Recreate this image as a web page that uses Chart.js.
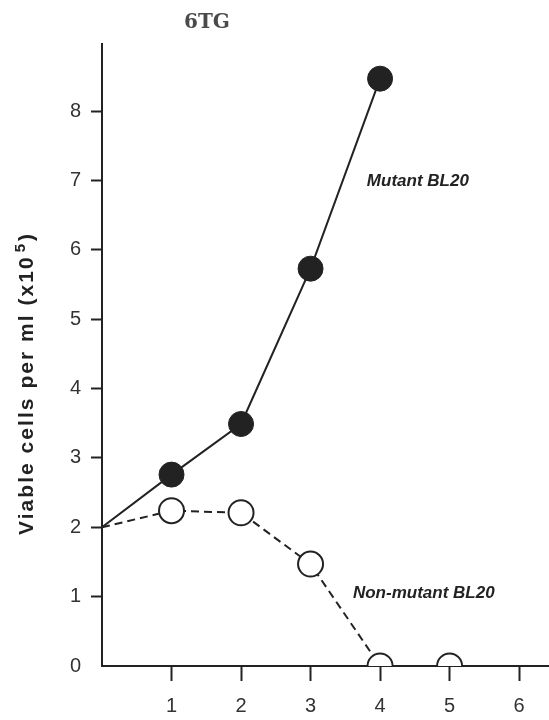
<!DOCTYPE html>
<html>
<head>
<meta charset="utf-8">
<script src="https://cdn.jsdelivr.net/npm/chart.js@4/dist/chart.umd.min.js"></script>
<style>
  html, body { margin: 0; padding: 0; background: #fff; }
  #wrap { width: 549px; height: 720px; position: relative; }
</style>
</head>
<body>
<div id="wrap"><canvas id="c" width="549" height="720"></canvas></div>
<script>
// Days in culture and viable cell counts (x10^5 per ml)
const days = [0, 1, 2, 3, 4, 5];
const mutantCells = [2.0, 2.76, 3.49, 5.73, 8.47];
const nonMutantCells = [2.0, 2.24, 2.21, 1.47, 0, 0];
const yTicks = [0, 1, 2, 3, 4, 5, 6, 7, 8];
const xTicks = [1, 2, 3, 4, 5, 6];

const ink = '#222';
const sans = '"Liberation Sans", Arial, sans-serif';

const toPoints = (vals) => vals.map((v, i) => ({ x: days[i], y: v }));

// Title, y-axis caption and in-plot series names
const textPlugin = {
  id: 'textLayer',
  afterDraw(chart) {
    const ctx = chart.ctx;
    const { x, y } = chart.scales;
    ctx.save();
    // "6TG" heading
    ctx.fillStyle = '#4a4a4a';
    ctx.font = 'bold 20px "DejaVu Serif", "Liberation Serif", serif';
    ctx.textAlign = 'center';
    ctx.textBaseline = 'middle';
    ctx.fillText('6TG', 207, 23);

    // Series names
    ctx.fillStyle = ink;
    ctx.font = 'italic bold 17px ' + sans;
    ctx.textAlign = 'left';
    ctx.fillText('Mutant BL20', x.getPixelForValue(3.81), y.getPixelForValue(6.99));
    ctx.fillText('Non-mutant BL20', x.getPixelForValue(3.61), y.getPixelForValue(1.05));

    // Rotated y-axis caption with superscript exponent, spread to a fixed length
    ctx.translate(33, 535);
    ctx.rotate(-Math.PI / 2);
    ctx.textAlign = 'left';
    ctx.textBaseline = 'alphabetic';
    const main = 'Viable cells per ml (x10';
    const bigFont = 'bold 21px ' + sans;
    const supFont = 'bold 15px ' + sans;
    ctx.font = bigFont;
    const natural = ctx.measureText(main).width + ctx.measureText(')').width;
    ctx.font = supFont;
    const supW = ctx.measureText('5').width;
    const spacing = Math.max(0, (303 - natural - supW - 6) / (main.length + 1));
    ctx.letterSpacing = spacing.toFixed(2) + 'px';
    ctx.font = bigFont;
    ctx.fillText(main, 0, 0);
    let w = ctx.measureText(main).width + 3;
    ctx.font = supFont;
    ctx.fillText('5', w, -8);
    w += supW + 3;
    ctx.font = bigFont;
    ctx.fillText(')', w, 0);
    ctx.restore();
  }
};

new Chart(document.getElementById('c'), {
  type: 'line',
  data: {
    datasets: [
      {
        label: 'Mutant BL20',
        data: toPoints(mutantCells),
        borderColor: ink,
        borderWidth: 2,
        backgroundColor: ink,
        pointBackgroundColor: ink,
        pointBorderColor: ink,
        pointBorderWidth: 1,
        pointRadius: (c) => (c.dataIndex === 0 ? 0 : 12.5),
        clip: 0,
        tension: 0
      },
      {
        label: 'Non-mutant BL20',
        data: toPoints(nonMutantCells),
        borderColor: ink,
        borderWidth: 2,
        borderDash: [8, 5],
        backgroundColor: '#fff',
        pointBackgroundColor: '#fff',
        pointBorderColor: ink,
        pointBorderWidth: 2,
        pointRadius: (c) => (c.dataIndex === 0 ? 0 : 12.5),
        clip: 0,
        tension: 0
      }
    ]
  },
  options: {
    responsive: false,
    animation: false,
    devicePixelRatio: 1,
    layout: { autoPadding: false, padding: { top: 44, right: 0, left: 0, bottom: 0 } },
    plugins: {
      legend: { display: false },
      tooltip: { enabled: false },
      title: { display: false }
    },
    scales: {
      x: {
        type: 'linear',
        min: 0,
        max: 6.43,
        afterBuildTicks: (s) => { s.ticks = xTicks.map((v) => ({ value: v })); },
        afterFit: (s) => { s.height = 54; },
        border: { display: true, color: ink, width: 2 },
        grid: { display: true, drawOnChartArea: false, drawTicks: true, tickLength: 15, tickColor: ink, tickWidth: 2 },
        ticks: {
          color: '#333',
          padding: 13,
          font: { family: sans, size: 20 },
          maxRotation: 0
        }
      },
      y: {
        type: 'linear',
        min: 0,
        max: 8.97,
        afterBuildTicks: (s) => { s.ticks = yTicks.map((v) => ({ value: v })); },
        afterFit: (s) => { s.width = 102; },
        border: { display: true, color: ink, width: 2 },
        grid: {
          display: true,
          drawOnChartArea: false,
          drawTicks: true,
          tickLength: 11,
          tickWidth: 2,
          tickColor: (c) => (c.tick && c.tick.value === 0 ? 'rgba(0,0,0,0)' : ink)
        },
        ticks: {
          color: '#333',
          padding: 10,
          font: { family: sans, size: 20 }
        }
      }
    }
  },
  plugins: [textPlugin]
});
</script>
</body>
</html>
